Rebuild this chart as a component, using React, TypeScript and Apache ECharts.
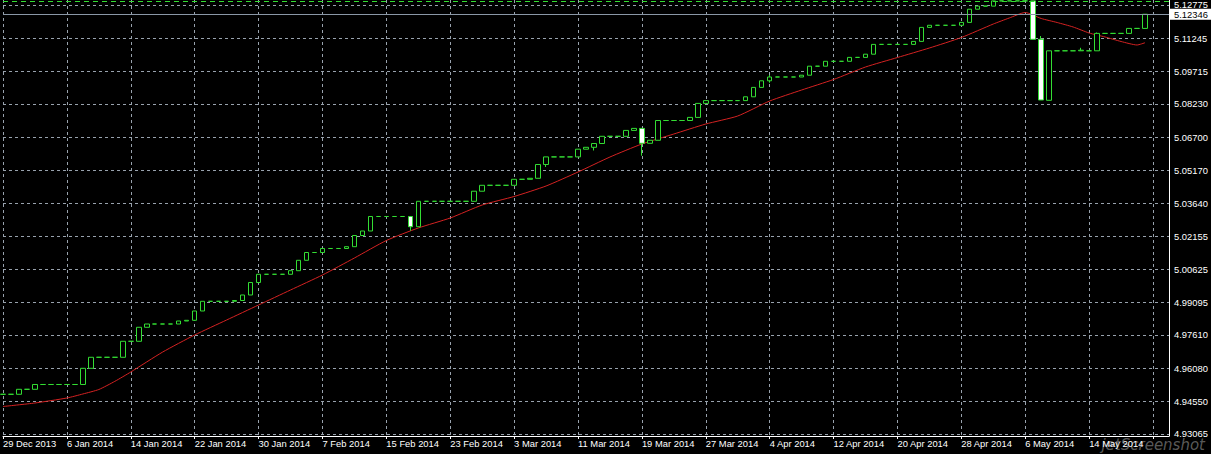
import React, { useEffect, useRef } from "react";
import * as echarts from "echarts";

// ---- categories (one slot per calendar day, starting 29 Dec 2013) ----
const START_UTC = Date.UTC(2013, 11, 29);
const MONTHS = ["Jan", "Feb", "Mar", "Apr", "May", "Jun", "Jul", "Aug", "Sep", "Oct", "Nov", "Dec"];
const SLOT_COUNT = 147;
const categories: string[] = Array.from({ length: SLOT_COUNT }, (_, i) => {
  const d = new Date(START_UTC + i * 86400000);
  return `${d.getUTCDate()} ${MONTHS[d.getUTCMonth()]} ${d.getUTCFullYear()}`;
});

// ---- price axis tick labels ----
const priceTicks = [
  4.93065, 4.9455, 4.9608, 4.9761, 4.99095, 5.00625, 5.02155, 5.0364, 5.0517, 5.067, 5.0823,
  5.09715, 5.11245, 5.12775,
];
const priceMin = 4.9297;
const priceMax = 5.13;
const lastPrice = 5.12346;
const tradeLevel = 5.12935;

// ---- candles (rows of 8 bars) ----
const opens = [
  4.94886, 4.94886, 4.94886, 4.95115, 4.95115, 4.95336, 4.95336, 4.95336,
  4.95336, 4.95336, 4.95336, 4.9608, 4.96586, 4.96586, 4.96586, 4.96586,
  4.97321, 4.97321, 4.97964, 4.98115, 4.98115, 4.98115, 4.98115, 4.98253,
  4.98285, 4.98713, 4.99158, 4.99158, 4.99158, 4.99158, 4.99195, 4.99448,
  5.00022, 5.00399, 5.00399, 5.00399, 5.00399, 5.00564, 5.01042, 5.014,
  5.014, 5.01584, 5.01584, 5.01584, 5.01667, 5.02181, 5.02388, 5.03054,
  5.03054, 5.03054, 5.03054, 5.03054, 5.02585, 5.03752, 5.03752, 5.03752,
  5.03752, 5.03752, 5.03752, 5.03752, 5.04216, 5.04487, 5.04487, 5.04487,
  5.04487, 5.04763, 5.04763, 5.04809, 5.05443, 5.05792, 5.05792, 5.05792,
  5.05792, 5.06146, 5.06233, 5.06408, 5.06738, 5.06738, 5.06738, 5.07009,
  5.07101, 5.06417, 5.06555, 5.07464, 5.07464, 5.07464, 5.07464, 5.07607,
  5.0825, 5.08378, 5.08378, 5.08378, 5.08378, 5.08378, 5.08553, 5.08985,
  5.09288, 5.09463, 5.09463, 5.09463, 5.09463, 5.09545, 5.09959, 5.09959,
  5.10184, 5.10184, 5.10184, 5.10363, 5.10363, 5.1051, 5.1096, 5.1096,
  5.1096, 5.1096, 5.1096, 5.11098, 5.11741, 5.11838, 5.11838, 5.11838,
  5.11838, 5.11971, 5.12577, 5.1272, 5.1272, 5.12959, 5.12959, 5.12959,
  5.12959, 5.12959, 5.11195, 5.08392, 5.10666, 5.10666, 5.10666, 5.10666,
  5.10666, 5.10666, 5.11466, 5.11466, 5.11466, 5.11466, 5.11695, 5.11695,
];
const closes = [
  4.94886, 4.94886, 4.95115, 4.95115, 4.95336, 4.95336, 4.95336, 4.95336,
  4.95336, 4.95336, 4.9608, 4.96586, 4.96586, 4.96586, 4.96586, 4.97321,
  4.97321, 4.97964, 4.98115, 4.98115, 4.98115, 4.98115, 4.98253, 4.98285,
  4.98713, 4.99158, 4.99158, 4.99158, 4.99158, 4.99195, 4.99448, 5.00022,
  5.00399, 5.00399, 5.00399, 5.00399, 5.00564, 5.01042, 5.014, 5.014,
  5.01584, 5.01584, 5.01584, 5.01667, 5.02181, 5.02388, 5.03054, 5.03054,
  5.03054, 5.03054, 5.03054, 5.02585, 5.03752, 5.03752, 5.03752, 5.03752,
  5.03752, 5.03752, 5.03752, 5.04216, 5.04487, 5.04487, 5.04487, 5.04487,
  5.04763, 5.04763, 5.04809, 5.05443, 5.05792, 5.05792, 5.05792, 5.05792,
  5.06146, 5.06233, 5.06408, 5.06738, 5.06738, 5.06738, 5.07009, 5.07101,
  5.06417, 5.06555, 5.07464, 5.07464, 5.07464, 5.07464, 5.07607, 5.0825,
  5.08378, 5.08378, 5.08378, 5.08378, 5.08378, 5.08553, 5.08985, 5.09288,
  5.09463, 5.09463, 5.09463, 5.09463, 5.09545, 5.09959, 5.09959, 5.10184,
  5.10184, 5.10184, 5.10363, 5.10363, 5.1051, 5.1096, 5.1096, 5.1096,
  5.1096, 5.1096, 5.11098, 5.11741, 5.11838, 5.11838, 5.11838, 5.11838,
  5.11971, 5.12577, 5.1272, 5.1272, 5.12959, 5.12959, 5.12959, 5.12959,
  5.12959, 5.11195, 5.08406, 5.10666, 5.10666, 5.10666, 5.10666, 5.10694,
  5.10666, 5.11466, 5.11466, 5.11466, 5.11466, 5.11695, 5.11695, 5.12346,
];
// wicks that reach beyond the body: [bar index, price]
const upperWicks: [number, number][] = [
  [96, 5.09554], [130, 5.11346], [135, 5.10804], [137, 5.11507],
];
const lowerWicks: [number, number][] = [
  [51, 5.02402], [68, 5.05328], [74, 5.06086], [80, 5.05847], [96, 5.09201],
];

// ---- moving average read at sampled bars: [bar index, price] ----
const movingAverage: [number, number][] = [
  [0, 4.94325], [4, 4.94486], [8, 4.94716], [10, 4.949], [12, 4.95106], [14, 4.9548],
  [16, 4.9591], [20, 4.96829], [24, 4.9761], [28, 4.98299], [32, 4.98988], [36, 4.99677],
  [40, 5.00366], [44, 5.01147], [48, 5.01951], [52, 5.02526], [56, 5.02985], [60, 5.03582],
  [64, 5.03973], [68, 5.04455], [72, 5.05098], [76, 5.05787], [80, 5.06385], [84, 5.06844],
  [88, 5.07303], [92, 5.07671], [96, 5.0836], [100, 5.08865], [104, 5.09348], [108, 5.09922],
  [112, 5.10358], [116, 5.10795], [120, 5.11277], [124, 5.11897], [126, 5.12173], [128, 5.12426],
  [130, 5.1215], [132, 5.11966], [134, 5.1176], [136, 5.11484], [138, 5.113], [140, 5.11093],
  [142, 5.10933], [143, 5.11038],
];

const GREEN = "#33dd33";
const GRID = "#98a2ad";
const FONT = "'Liberation Sans', Arial, sans-serif";

export default function App() {
  const ref = useRef<HTMLDivElement>(null);

  useEffect(() => {
    document.body.style.margin = "0";
    document.body.style.background = "#000";
    if (!ref.current) return;
    const chart = echarts.init(ref.current, null, { renderer: "svg" });

    const hiMap = new Map(upperWicks);
    const loMap = new Map(lowerWicks);
    const candleData = opens.map((o, i) => {
      const c = closes[i];
      const low = loMap.has(i) ? loMap.get(i)! : Math.min(o, c);
      const high = hiMap.has(i) ? hiMap.get(i)! : Math.max(o, c);
      return [o, c, low, high];
    });
    const maMap = new Map(movingAverage);
    const maData = categories.map((_, i) => (maMap.has(i) ? maMap.get(i)! : null));

    chart.setOption({
      animation: false,
      backgroundColor: "#000",
      grid: { left: 1, right: 42, top: 0, bottom: 18 },
      xAxis: {
        type: "category",
        data: categories,
        boundaryGap: false,
        axisLine: { show: true, onZero: false, lineStyle: { color: "#fff", width: 1 } },
        axisTick: { show: true, interval: 7, length: 3, lineStyle: { color: "#fff" } },
        axisLabel: {
          interval: 7,
          align: "left",
          color: "#fff",
          fontFamily: FONT,
          fontSize: 9.4,
          margin: 3,
          formatter: (v: string, idx: number) => (idx >= 144 ? "" : v),
        },
        splitLine: { show: true, interval: 7, lineStyle: { color: GRID, type: [3, 3], width: 1 } },
      },
      yAxis: {
        type: "value",
        position: "right",
        min: priceMin,
        max: priceMax,
        scale: true,
        axisLine: { show: true, lineStyle: { color: "#fff", width: 1 } },
        axisTick: { show: false, customValues: priceTicks },
        axisLabel: {
          customValues: priceTicks,
          color: "#fff",
          fontFamily: FONT,
          fontSize: 9.4,
          margin: 5,
          formatter: (v: number) => v.toFixed(5),
        },
        splitLine: { show: true, lineStyle: { color: GRID, type: [3, 3], width: 1 } },
      },
      series: [
        {
          type: "line",
          data: maData,
          connectNulls: true,
          showSymbol: false,
          symbol: "none",
          smooth: 0.2,
          lineStyle: { color: "#d42222", width: 1 },
          z: 2,
          markLine: {
            silent: true,
            symbol: "none",
            animation: false,
            precision: 5,
            data: [
              {
                yAxis: lastPrice,
                lineStyle: { color: "#8a97a6", type: "solid", width: 1 },
                label: {
                  show: true,
                  position: "end",
                  distance: 1,
                  formatter: lastPrice.toFixed(5),
                  backgroundColor: "#fff",
                  color: "#000",
                  fontFamily: FONT,
                  fontSize: 9.4,
                  padding: [1, 6, 1, 4],
                },
              },
              {
                yAxis: tradeLevel,
                lineStyle: { color: GREEN, type: [5, 4], width: 1 },
                label: { show: false },
              },
            ],
          },
        },
        {
          type: "candlestick",
          data: candleData,
          barWidth: 5,
          itemStyle: {
            color: "#000",
            color0: "#fff",
            borderColor: GREEN,
            borderColor0: GREEN,
            borderColorDoji: GREEN,
            borderWidth: 1,
          },
          z: 3,
        },
      ],
      graphic: [
        {
          type: "text",
          right: 6,
          bottom: 2,
          silent: true,
          z: -1,
          style: {
            text: "jetScreenshot",
            fill: "rgba(200,200,200,0.45)",
            font: "italic 15px 'DejaVu Sans', sans-serif",
          },
        },
      ],
    });

    return () => chart.dispose();
  }, []);

  return (
    <div
      ref={ref}
      style={{ position: "absolute", left: 0, top: 0, width: 1211, height: 454, background: "#000" }}
    />
  );
}
